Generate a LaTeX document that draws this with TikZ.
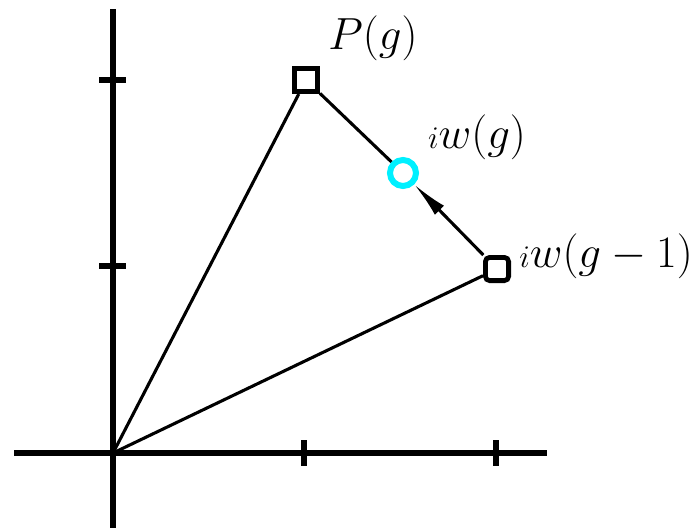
\RequirePackage{fix-cm}
\documentclass[tikz,border=0pt]{standalone}
\usepackage{tikz}
\usetikzlibrary{arrows.meta, positioning}
\definecolor{myCyan}{RGB}{0,240,255}

\begin{document}
\begin{tikzpicture}[x=0.025cm, y=-0.025cm,
  >={Latex[length=9mm, width=3.2mm]},
  axis/.style={line width=3.6pt},
  seg/.style={line width=2.2pt},
  ptbox/.style={draw, line width=3.4pt, fill=white, minimum size=5.8mm, inner sep=0pt},
  lbl/.style={inner sep=0pt, font=\fontsize{32}{38}\selectfont}]
  \useasboundingbox (0,0) rectangle (696,528);
  % axes and ticks
  \draw[axis] (14,453) -- (547,453);
  \draw[axis] (113,9) -- (113,528);
  \foreach \tx in {304,496} \draw[axis] (\tx,440) -- (\tx,466);
  \foreach \ty in {80,266} \draw[axis] (99,\ty) -- (126,\ty);
  % points
  \coordinate (o) at (113,453);
  \node[ptbox, rectangle] (pbest) at (306,80) {};
  \node[ptbox, rectangle, rounded corners=3pt] (wold) at (497,269) {};
  \node[ptbox, circle, draw=myCyan, line width=4.3pt, minimum size=6.5mm] (wnew) at (403,173) {};
  \draw[seg] (o) -- (pbest);
  \draw[seg] (o) -- (wold);
  \draw[seg] (pbest) -- (wnew);
  \draw[seg, ->] (wold) -- (wnew);
  % labels
  \node[lbl] (pbestlbl) at (373,38) {$P(g)$};
  \node[lbl] (wnewlbl) at (477,137) {${\scriptstyle i}w(g)$};
  \node[lbl] (woldlbl) at (606,256) {${\scriptstyle i}w(g-1)$};
\end{tikzpicture}
\end{document}
